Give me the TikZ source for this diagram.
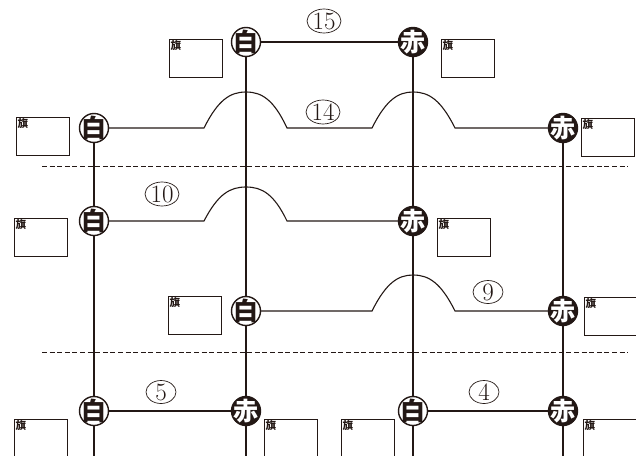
\documentclass[tikz,border=0pt]{standalone}
\usepackage{fontspec}
\newfontfamily\cjk{Noto Sans CJK JP}
\usetikzlibrary{shapes.geometric,backgrounds}
\definecolor{ink}{HTML}{231815}
\begin{document}
\begin{tikzpicture}[x=1pt,y=-1pt,
  wire/.style={draw=ink,line width=1.1pt},
  sep/.style={draw=ink,line width=0.8pt,dash pattern=on 5pt off 2.6pt},
  shiro/.style={circle,draw=ink,fill=white,line width=1.4pt,minimum size=29pt,inner sep=0pt,
    label={[anchor=center,inner sep=0pt,font=\cjk\bfseries\fontsize{25}{25}\selectfont,text=ink]center:#1}},
  aka/.style={circle,draw=ink,fill=ink,line width=1.4pt,minimum size=29pt,inner sep=0pt,
    label={[anchor=center,inner sep=0pt,font=\cjk\bfseries\fontsize{25}{25}\selectfont,text=white]center:#1}},
  flag/.style={draw=ink,line width=0.8pt,minimum width=53pt,minimum height=38pt,inner sep=0pt,
    anchor=north west,fill=white,
    label={[anchor=north west,inner sep=1.5pt,font=\cjk\bfseries\fontsize{10.5}{10.5}\selectfont,text=ink]north west:旗}},
  numa/.style={ellipse,draw=ink,line width=0.7pt,inner sep=0pt,minimum width=30pt,minimum height=23pt,
    label={[anchor=center,inner sep=0pt,font=\fontsize{25}{25}\selectfont,text=ink]center:#1}},
  numb/.style={ellipse,draw=ink,line width=0.7pt,inner sep=0pt,minimum width=34pt,minimum height=24pt,
    label={[anchor=center,inner sep=0pt,font=\fontsize{25}{25}\selectfont,text=ink]center:#1}}
  ]
\useasboundingbox (0,0) rectangle (636,455);
\clip (0,0) rectangle (636,455);

% circles
\node[shiro=白] (W1) at (246,42) {};
\node[aka=赤]   (R1) at (413,42) {};
\node[shiro=白] (W2) at (94,128) {};
\node[aka=赤]   (R2) at (563,128) {};
\node[shiro=白] (W3) at (94,221) {};
\node[aka=赤]   (R3) at (413,221) {};
\node[shiro=白] (W4) at (246,311) {};
\node[aka=赤]   (R4) at (563,311) {};
\node[shiro=白] (W5a) at (94,411) {};
\node[aka=赤]   (R5a) at (246,411) {};
\node[shiro=白] (W5b) at (413,411) {};
\node[aka=赤]   (R5b) at (563,411) {};

% bottom ends
\coordinate (b1) at (94,456);
\coordinate (b2) at (246,456);
\coordinate (b3) at (413,456);
\coordinate (b4) at (563,456);
\coordinate (d1a) at (42,166);
\coordinate (d1b) at (628,166);
\coordinate (d2a) at (42,352);
\coordinate (d2b) at (628,352);

\begin{pgfonlayer}{background}
  \draw[wire] (W2) -- (b1);
  \draw[wire] (W1) -- (b2);
  \draw[wire] (R1) -- (b3);
  \draw[wire] (R2) -- (b4);
  \draw[sep] (d1a) -- (d1b);
  \draw[sep] (d2a) -- (d2b);
  \draw[wire] (W1) -- (R1);
  \draw[wire] (W2.east) -- (204,128)
     .. controls (218,100) and (230,92) .. (246,92)
     .. controls (262,92) and (274,100) .. (287,128)
     -- (372,128)
     .. controls (386,100) and (398,92) .. (413,92)
     .. controls (429,92) and (441,100) .. (455,128)
     -- (R2.west);
  \draw[wire] (W3.east) -- (204,221)
     .. controls (218,194) and (230,187) .. (246,187)
     .. controls (262,187) and (274,194) .. (287,221)
     -- (R3.west);
  \draw[wire] (W4.east) -- (372,311)
     .. controls (386,283) and (398,275) .. (413,275)
     .. controls (429,275) and (441,283) .. (455,311)
     -- (R4.west);
  \draw[wire] (W5a) -- (R5a);
  \draw[wire] (W5b) -- (R5b);
\end{pgfonlayer}

% number labels
\node[numb=15] (n15) at (324,21) {};
\node[numb=14] (n14) at (323,112) {};
\node[numb=10] (n10) at (162,194) {};
\node[numa=9]  (n9)  at (488,292) {};
\node[numa=5]  (n5)  at (161,392) {};
\node[numa=4]  (n4)  at (484,392) {};

% flags
\node[flag] (fA) at (169,39) {};
\node[flag] (fB) at (441,39) {};
\node[flag] (fC) at (16,117) {};
\node[flag] (fD) at (581,118) {};
\node[flag] (fE) at (14,218) {};
\node[flag] (fF) at (437,218) {};
\node[flag] (fG) at (168,296) {};
\node[flag] (fH) at (584,297) {};
\node[flag] (fI) at (14,419) {};
\node[flag] (fJ) at (264,419) {};
\node[flag] (fK) at (341,419) {};
\node[flag] (fL) at (583,419) {};
\end{tikzpicture}
\end{document}
